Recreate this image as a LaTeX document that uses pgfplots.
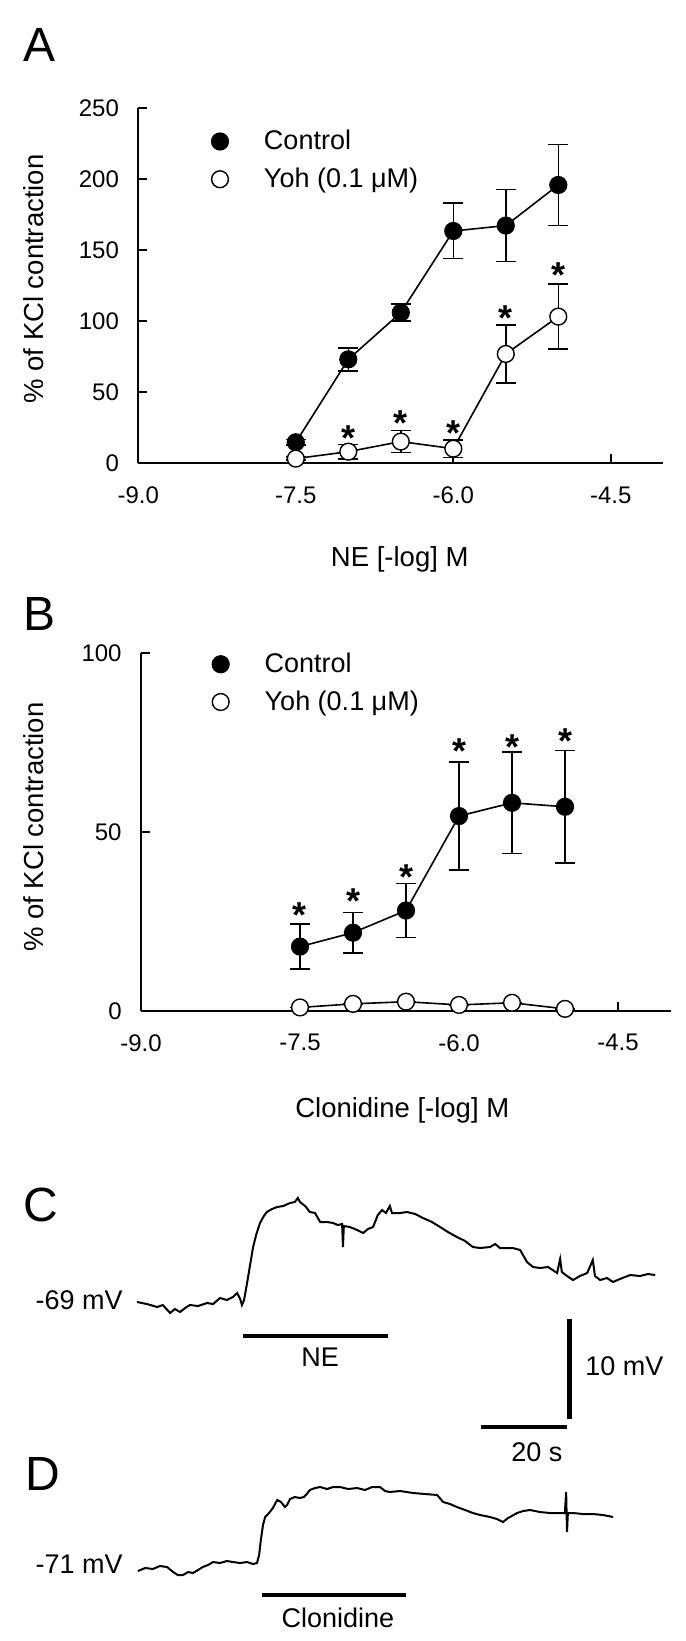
\documentclass[border=0pt]{standalone}
\usepackage{fontspec}
\setmainfont{Liberation Sans}
\usepackage{pgfplots}
\pgfplotsset{compat=1.18}

\pgfplotsset{
  doseaxis/.style={
    scale only axis, clip=false,
    axis x line*=bottom, axis y line*=left,
    xtick pos=bottom, ytick pos=left,
    axis line style={line width=1pt},
    xmin=-9, xmax=-4,
    xtick={-9,-7.5,-6,-4.5}, xticklabels={-9.0,-7.5,-6.0,-4.5},
    tick align=inside, major tick length=4.5pt,
    every tick/.style={line width=1pt, black},
    tick label style={font=\fontsize{12}{14}\selectfont, inner sep=0pt},
    xticklabel style={yshift=-11.5pt},
    yticklabel style={xshift=-9.5pt},
    /pgf/number format/assume math mode=true,
    legend style={draw=none, fill=none, inner sep=0pt, outer sep=0pt,
      row sep=7.6pt, font=\fontsize{13.5}{16}\selectfont,
      nodes={inner sep=0pt, anchor=west}},
    legend cell align=left,
    legend image code/.code={\draw[##1] plot coordinates {(0pt,0pt)}; \path[draw=none, fill=none] (-4.2pt,0pt) -- (22pt,0pt);},
  },
  ctrl/.style={black, line width=0.8pt, mark=*, mark size=4.2pt,
    mark options={fill=black, line width=0.7pt},
    error bars/.cd, y dir=both, y explicit,
    error bar style={line width=0.8pt},
    error mark options={rotate=90, mark size=5pt, line width=0.8pt}},
  yoh/.style={black, line width=0.8pt, mark=*, mark size=4.2pt,
    mark options={fill=white, draw=black, line width=0.7pt},
    error bars/.cd, y dir=both, y explicit,
    error bar style={line width=0.8pt},
    error mark options={rotate=90, mark size=5pt, line width=0.8pt}},
  stars/.style={forget plot, draw=none, mark=none, nodes near coords={*},
    every node near coord/.style={font=\fontsize{18}{18}\selectfont\bfseries,
      anchor=base, yshift=-10.4pt, inner sep=0pt}},
}

\begin{document}
\begin{tikzpicture}
\path (0pt,0pt) rectangle (342.5pt,-820.5pt);

% panel letters
\node[anchor=base west, inner sep=0pt, font=\fontsize{24}{24}\selectfont] at (11.5pt,-31pt) {A};
\node[anchor=base west, inner sep=0pt, font=\fontsize{24}{24}\selectfont] at (11.5pt,-315pt) {B};
\node[anchor=base west, inner sep=0pt, font=\fontsize{24}{24}\selectfont] at (11.5pt,-610.5pt) {C};
\node[anchor=base west, inner sep=0pt, font=\fontsize{24}{24}\selectfont] at (12.5pt,-745pt) {D};

% ---------------- Panel A ----------------
\begin{axis}[doseaxis,
  at={(69.15pt,-231.65pt)}, anchor=south west,
  width=262.5pt, height=177.5pt,
  ymin=0, ymax=250, ytick={0,50,100,150,200,250},
  xlabel={NE [-log] M},
  ylabel={\% of KCl contraction},
  every axis x label/.style={at={(axis description cs:0.498,-0.272)}, anchor=center, font=\fontsize{13.75}{16}\selectfont},
  every axis y label/.style={at={(axis description cs:-0.1987,0.519)}, rotate=90, anchor=center, font=\fontsize{13.75}{16}\selectfont},
  legend style={at={(axis description cs:0.1396,0.9383)}, anchor=north west},
]
\addplot[ctrl] coordinates {
  (-7.5,14.8) +- (0,2)
  (-7.0,73.2) +- (0,8)
  (-6.5,106.1) +- (0,6)
  (-6.0,163.6) +- (0,19.5)
  (-5.5,167.4) +- (0,25.3)
  (-5.0,196.0) +- (0,28.5)
};
\addlegendentry{Control}
\addplot[yoh] coordinates {
  (-7.5,3.3) +- (0,1)
  (-7.0,8.2) +- (0,5)
  (-6.5,15.3) +- (0,7.8)
  (-6.0,10.3) +- (0,6.2)
  (-5.5,77.0) +- (0,20.4)
  (-5.0,103.3) +- (0,23)
};
\addlegendentry{Yoh (0.1 μM)}
\addplot[stars] coordinates {(-7.0,23.5) (-6.5,34) (-6.0,27) (-5.5,108) (-5.0,138.5)};
\end{axis}

% ---------------- Panel B ----------------
\begin{axis}[doseaxis,
  at={(70.5pt,-505.5pt)}, anchor=south west,
  width=265pt, height=178.85pt,
  ymin=0, ymax=100, ytick={0,50,100},
  xlabel={Clonidine [-log] M},
  ylabel={\% of KCl contraction},
  every axis x label/.style={at={(axis description cs:0.493,-0.277)}, anchor=center, font=\fontsize{13.75}{16}\selectfont},
  every axis y label/.style={at={(axis description cs:-0.2019,0.514)}, rotate=90, anchor=center, font=\fontsize{13.75}{16}\selectfont},
  legend style={at={(axis description cs:0.1345,1.001)}, anchor=north west},
]
\addplot[ctrl] coordinates {
  (-7.5,18.0) +- (0,6.3)
  (-7.0,21.9) +- (0,5.6)
  (-6.5,28.1) +- (0,7.6)
  (-6.0,54.5) +- (0,15.1)
  (-5.5,58.2) +- (0,14.2)
  (-5.0,57.1) +- (0,15.7)
};
\addlegendentry{Control}
\addplot[yoh] coordinates {
  (-7.5,1.0) +- (0,0)
  (-7.0,2.0) +- (0,0)
  (-6.5,2.6) +- (0,0)
  (-6.0,1.7) +- (0,0)
  (-5.5,2.3) +- (0,0)
  (-5.0,0.6) +- (0,0)
};
\addlegendentry{Yoh (0.1 μM)}
\addplot[stars] coordinates {(-7.5,29.2) (-7.0,33.1) (-6.5,39.9) (-6.0,75) (-5.5,76.2) (-5.0,77.8)};
\end{axis}

% ---------------- Panel C ----------------
\begin{axis}[scale only axis, clip=false, axis lines=none,
  at={(68.5pt,-715pt)}, anchor=south west,
  width=265pt, height=120pt,
  xmin=0, xmax=123.256, ymin=-81.8, ymax=-57.8]
\addplot[black, line width=1pt] coordinates {
 (0,-69.0) (2.3,-69.2) (4.7,-69.5) (6.0,-69.3) (7.7,-70.1) (8.8,-69.7) (10.0,-70.0)
 (11.2,-69.6) (12.3,-69.3) (14.2,-69.4) (16.3,-69.1) (17.7,-69.2) (19.3,-68.6)
 (20.9,-68.8) (22.3,-68.5) (23.3,-68.1) (24.0,-68.7) (24.4,-69.3) (24.9,-68.8)
 (25.6,-67.1) (26.3,-65.3) (27.0,-63.5) (27.7,-62.3) (28.6,-61.1) (29.5,-60.4)
 (30.2,-60.0) (31.4,-59.7) (32.6,-59.5) (34.0,-59.4) (35.6,-59.1) (36.7,-59.0)
 (37.4,-58.6) (37.9,-59.0) (39.1,-59.4) (40.2,-60.0) (41.4,-60.1) (42.6,-61.0)
 (44.2,-61.0) (45.6,-61.1) (46.7,-61.3) (47.7,-61.2) (47.9,-63.5) (48.1,-61.4)
 (49.5,-61.5) (51.2,-61.8) (52.6,-62.1) (53.7,-61.7) (54.9,-61.5) (56.0,-60.3)
 (57.0,-59.8) (57.9,-60.1) (58.8,-59.4) (59.3,-60.1) (61.2,-60.1) (62.8,-60.0)
 (64.7,-60.2) (66.5,-60.6) (68.6,-61.0) (70.5,-61.5) (72.3,-62.0) (74.4,-62.5)
 (76.3,-62.9) (78.1,-63.5) (79.8,-63.6) (82.1,-63.5) (83.3,-63.2) (84.4,-63.6)
 (87.4,-63.6) (89.1,-63.8) (90.7,-65.0) (92.1,-65.5) (93.7,-65.6) (95.6,-65.5)
 (97.7,-66.1) (98.4,-64.7) (98.8,-66.0) (100.0,-66.4) (101.4,-66.8) (103.0,-66.4)
 (104.7,-66.1) (106.0,-64.8) (106.5,-66.4) (107.7,-66.8) (109.3,-66.6) (110.7,-67.0)
 (112.3,-66.7) (114.7,-66.3) (117.0,-66.4) (118.8,-66.2) (120.5,-66.3)
};
\addplot[black, line width=2pt] coordinates {(24.7,-72.4) (58.4,-72.4)};
\addplot[black, line width=2.3pt] coordinates {(100.6,-70.7) (100.6,-80.7)};
\addplot[black, line width=2.2pt] coordinates {(80,-81.5) (100,-81.5)};
\node[anchor=east, inner sep=0pt, font=\fontsize{13.5}{16}\selectfont] at (axis cs:-3.26,-68.8) {-69 mV};
\node[anchor=center, inner sep=0pt, font=\fontsize{13.5}{16}\selectfont] at (axis cs:42.6,-74.5) {NE};
\node[anchor=west, inner sep=0pt, font=\fontsize{13.5}{16}\selectfont] at (axis cs:104.2,-75.4) {10 mV};
\node[anchor=center, inner sep=0pt, font=\fontsize{13.5}{16}\selectfont] at (axis cs:93.0,-84.0) {20 s};
\end{axis}

% ---------------- Panel D ----------------
\begin{axis}[scale only axis, clip=false, axis lines=none,
  at={(68.5pt,-800pt)}, anchor=south west,
  width=265pt, height=60pt,
  xmin=0, xmax=123.256, ymin=-74.2, ymax=-62.2]
\addplot[black, line width=1pt] coordinates {
 (0.2,-71.3) (1.9,-71.0) (3.7,-71.1) (5.3,-70.8) (7.0,-70.9) (8.4,-71.4) (9.5,-71.7)
 (10.7,-71.7) (11.9,-71.4) (13.0,-71.5) (14.2,-71.2) (15.3,-70.9) (16.5,-70.7)
 (17.7,-70.4) (19.3,-70.5) (20.9,-70.3) (22.3,-70.4) (24.0,-70.5) (25.6,-70.4)
 (27.0,-70.6) (27.9,-70.5) (28.4,-69.7) (28.8,-68.2) (29.3,-66.7) (29.8,-65.9)
 (30.7,-65.5) (31.6,-65.0) (32.6,-64.2) (33.5,-64.4) (34.4,-64.9) (34.9,-64.7)
 (35.6,-64.1) (36.7,-63.9) (37.9,-64.0) (38.8,-63.9) (39.5,-63.6) (40.2,-63.2)
 (41.4,-63.0) (42.6,-62.9) (44.2,-63.1) (45.6,-62.9) (47.2,-62.9) (49.1,-63.1)
 (51.2,-63.0) (53.0,-63.2) (54.7,-62.9) (56.5,-62.9) (57.7,-63.3) (58.8,-63.4)
 (61.2,-63.3) (64.2,-63.5) (67.0,-63.6) (69.8,-63.7) (71.2,-64.4) (72.8,-64.6)
 (74.4,-64.9) (76.3,-65.2) (78.1,-65.5) (79.8,-65.7) (82.1,-65.9) (83.7,-66.1)
 (85.1,-66.4) (86.3,-66.0) (88.4,-65.5) (89.8,-65.3) (91.4,-65.2) (93.7,-65.4)
 (96.0,-65.5) (98.4,-65.5) (99.5,-65.5) (99.8,-63.4) (100.0,-67.4) (100.2,-65.5)
 (101.4,-65.5) (103.7,-65.6) (106.0,-65.6) (108.4,-65.7) (110.7,-65.9)
};
\addplot[black, line width=2pt] coordinates {(29.1,-73.7) (62.6,-73.7)};
\node[anchor=east, inner sep=0pt, font=\fontsize{13.5}{16}\selectfont] at (axis cs:-3.26,-70.6) {-71 mV};
\node[anchor=center, inner sep=0pt, font=\fontsize{13.5}{16}\selectfont] at (axis cs:46.7,-76.0) {Clonidine};
\end{axis}
\end{tikzpicture}
\end{document}
